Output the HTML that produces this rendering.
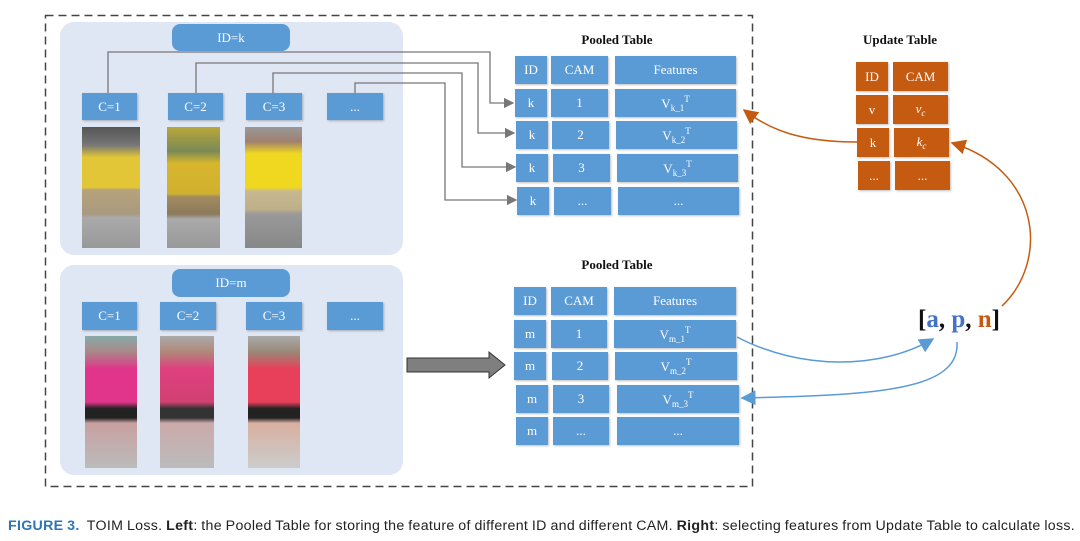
<!DOCTYPE html>
<html><head><meta charset="utf-8"><style>
body{margin:0;width:1080px;height:541px;background:#fff;position:relative;overflow:hidden;font-family:"Liberation Serif",serif}
.a{position:absolute}
.b{position:absolute;background:#5b9bd5;color:#fff;display:flex;align-items:center;justify-content:center;font-size:13px;box-shadow:1px 1px 2px rgba(0,0,0,.25)}
.o{position:absolute;background:#c55a11;color:#fff;display:flex;align-items:center;justify-content:center;font-size:13px;box-shadow:1px 1px 2px rgba(0,0,0,.25)}
.panel{position:absolute;background:#dfe6f4;border-radius:14px}
.t{position:absolute;font-weight:bold;font-size:13px;color:#111;text-align:center}
.img{position:absolute}
sub{font-size:9px;vertical-align:-3px}sup{font-size:9px;vertical-align:6px}
</style></head><body>
<div class="panel" style="left:60px;top:22px;width:343px;height:233px"></div>
<div class="panel" style="left:60px;top:265px;width:343px;height:210px"></div>
<div class="b" style="left:172px;top:24px;width:118px;height:27px;border-radius:8px;box-shadow:none">ID=k</div>
<div class="b" style="left:82px;top:93px;width:55px;height:27px">C=1</div>
<div class="b" style="left:168px;top:93px;width:55px;height:27px">C=2</div>
<div class="b" style="left:246px;top:93px;width:56px;height:27px">C=3</div>
<div class="b" style="left:327px;top:93px;width:56px;height:27px">...</div>
<div class="img" style="left:82px;top:127px;width:58px;height:121px;background:linear-gradient(#555 0,#777 15%,#e2c637 25%,#e2c637 50%,#b7a27b 52%,#a89b80 72%,#aaa 75%,#999 100%)"></div>
<div class="img" style="left:167px;top:127px;width:53px;height:121px;background:linear-gradient(#b8a73a 0,#7a8a55 20%,#d8b62c 30%,#d0b030 55%,#a08a60 58%,#8c7a5c 72%,#aaa 76%,#999 100%)"></div>
<div class="img" style="left:245px;top:127px;width:57px;height:121px;background:linear-gradient(#999 0,#a08070 12%,#f0d820 22%,#f0d820 50%,#c8b890 53%,#c0b08a 68%,#999 72%,#888 100%)"></div>
<div class="b" style="left:172px;top:269px;width:118px;height:28px;border-radius:8px;box-shadow:none">ID=m</div>
<div class="b" style="left:82px;top:302px;width:55px;height:28px">C=1</div>
<div class="b" style="left:160px;top:302px;width:56px;height:28px">C=2</div>
<div class="b" style="left:246px;top:302px;width:56px;height:28px">C=3</div>
<div class="b" style="left:327px;top:302px;width:56px;height:28px">...</div>
<div class="img" style="left:85px;top:336px;width:52px;height:132px;background:linear-gradient(#8aa 0,#a88 12%,#e0358a 25%,#e0358a 50%,#222 55%,#222 62%,#c9a0a0 66%,#bbb 100%)"></div>
<div class="img" style="left:160px;top:336px;width:54px;height:132px;background:linear-gradient(#aaa 0,#b08878 12%,#e04080 25%,#d04070 50%,#333 55%,#333 62%,#caa 66%,#bbb 100%)"></div>
<div class="img" style="left:248px;top:336px;width:52px;height:132px;background:linear-gradient(#aaa 0,#987 12%,#e8405a 25%,#e8405a 50%,#222 55%,#222 62%,#d8b0a0 66%,#ccc 100%)"></div>

<div class="t" style="left:557px;top:32px;width:120px">Pooled Table</div>
<div class="b" style="left:515px;top:56px;width:32px;height:28px">ID</div>
<div class="b" style="left:551px;top:56px;width:57px;height:28px">CAM</div>
<div class="b" style="left:615px;top:56px;width:121px;height:28px">Features</div>
<div class="b" style="left:515px;top:89px;width:32px;height:28px">k</div>
<div class="b" style="left:551px;top:89px;width:57px;height:28px">1</div>
<div class="b" style="left:615px;top:89px;width:121px;height:28px"><span>V<sub>k_1</sub><sup>T</sup></span></div>
<div class="b" style="left:516px;top:121px;width:32px;height:28px">k</div>
<div class="b" style="left:552px;top:121px;width:57px;height:28px">2</div>
<div class="b" style="left:616px;top:121px;width:121px;height:28px"><span>V<sub>k_2</sub><sup>T</sup></span></div>
<div class="b" style="left:516px;top:154px;width:32px;height:28px">k</div>
<div class="b" style="left:553px;top:154px;width:57px;height:28px">3</div>
<div class="b" style="left:617px;top:154px;width:121px;height:28px"><span>V<sub>k_3</sub><sup>T</sup></span></div>
<div class="b" style="left:517px;top:187px;width:32px;height:28px">k</div>
<div class="b" style="left:554px;top:187px;width:57px;height:28px">...</div>
<div class="b" style="left:618px;top:187px;width:121px;height:28px">...</div>

<div class="t" style="left:557px;top:257px;width:120px">Pooled Table</div>
<div class="b" style="left:514px;top:287px;width:32px;height:28px">ID</div>
<div class="b" style="left:551px;top:287px;width:56px;height:28px">CAM</div>
<div class="b" style="left:614px;top:287px;width:122px;height:28px">Features</div>
<div class="b" style="left:514px;top:320px;width:32px;height:28px">m</div>
<div class="b" style="left:551px;top:320px;width:56px;height:28px">1</div>
<div class="b" style="left:614px;top:320px;width:122px;height:28px"><span>V<sub>m_1</sub><sup>T</sup></span></div>
<div class="b" style="left:514px;top:352px;width:32px;height:28px">m</div>
<div class="b" style="left:552px;top:352px;width:56px;height:28px">2</div>
<div class="b" style="left:615px;top:352px;width:122px;height:28px"><span>V<sub>m_2</sub><sup>T</sup></span></div>
<div class="b" style="left:516px;top:385px;width:32px;height:28px">m</div>
<div class="b" style="left:553px;top:385px;width:56px;height:28px">3</div>
<div class="b" style="left:617px;top:385px;width:122px;height:28px"><span>V<sub>m_3</sub><sup>T</sup></span></div>
<div class="b" style="left:516px;top:417px;width:32px;height:28px">m</div>
<div class="b" style="left:553px;top:417px;width:56px;height:28px">...</div>
<div class="b" style="left:617px;top:417px;width:122px;height:28px">...</div>

<div class="t" style="left:840px;top:32px;width:120px">Update Table</div>
<div class="o" style="left:856px;top:62px;width:32px;height:29px">ID</div>
<div class="o" style="left:893px;top:62px;width:55px;height:29px">CAM</div>
<div class="o" style="left:856px;top:95px;width:32px;height:29px">v</div>
<div class="o" style="left:893px;top:95px;width:55px;height:29px"><i>v<sub>c</sub></i></div>
<div class="o" style="left:857px;top:128px;width:32px;height:29px">k</div>
<div class="o" style="left:894px;top:128px;width:55px;height:29px"><i>k<sub>c</sub></i></div>
<div class="o" style="left:858px;top:161px;width:32px;height:29px">...</div>
<div class="o" style="left:895px;top:161px;width:55px;height:29px">...</div>

<div class="a" style="left:918px;top:306px;font-size:25px;font-weight:bold;color:#111">[<span style="color:#4472c4">a</span>, <span style="color:#4472c4">p</span>, <span style="color:#c55a11">n</span>]</div>

<svg class="a" style="left:0;top:0" width="1080" height="541">
<defs>
<marker id="g" markerWidth="8" markerHeight="8" refX="7" refY="4" orient="auto"><path d="M0,0L8,4L0,8z" fill="#777"/></marker>
<marker id="r" markerWidth="10" markerHeight="10" refX="9" refY="5" orient="auto"><path d="M0,0L10,5L0,10z" fill="#c55a11"/></marker>
<marker id="u" markerWidth="10" markerHeight="10" refX="9" refY="5" orient="auto"><path d="M0,0L10,5L0,10z" fill="#5b9bd5"/></marker>
</defs>
<rect x="45.5" y="15.5" width="707" height="471" fill="none" stroke="#444" stroke-width="1.5" stroke-dasharray="8,5"/>
<g fill="none" stroke="#777" stroke-width="1.3">
<path d="M108,93V52H490V103H513" marker-end="url(#g)"/>
<path d="M196,93V63H478V133H514" marker-end="url(#g)"/>
<path d="M273,93V73H462V167H515" marker-end="url(#g)"/>
<path d="M355,93V83H445V200H516" marker-end="url(#g)"/>
</g>
<path d="M407,358H489V352L505,365L489,378V372H407Z" fill="#7f7f7f" stroke="#333" stroke-width="1"/>
<g fill="none" stroke-width="1.5">
<path d="M857,142C800,142 770,130 744,110" stroke="#c55a11" marker-end="url(#r)"/>
<path d="M1002,306C1050,260 1040,170 952,143" stroke="#c55a11" marker-end="url(#r)"/>
<path d="M737,337C800,370 880,370 933,339" stroke="#5b9bd5" marker-end="url(#u)"/>
<path d="M957,342C960,390 880,395 742,398" stroke="#5b9bd5" marker-end="url(#u)"/>
</g>
</svg>

<div class="a" style="left:8px;top:518px;font-family:'Liberation Sans',sans-serif;font-size:14.2px;color:#222;white-space:nowrap;letter-spacing:0.3px;word-spacing:-0.5px"><b style="color:#2e75b6">FIGURE 3.</b>&nbsp; TOIM Loss. <b>Left</b>: the Pooled Table for storing the feature of different ID and different CAM. <b>Right</b>: selecting features from Update Table to calculate loss.</div>
</body></html>
